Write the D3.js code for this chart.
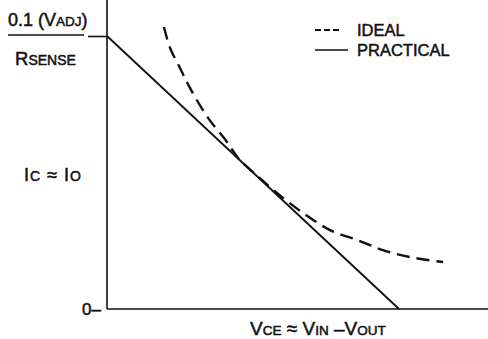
<!DOCTYPE html>
<html><head><meta charset="utf-8">
<script src="https://cdn.jsdelivr.net/npm/d3@7"></script>
<style>body{margin:0;background:#fff}svg{display:block}text{font-family:"Liberation Sans",Arial,sans-serif;fill:#111;stroke:#111;stroke-width:0.5px}</style>
</head><body><svg id="c" width="488" height="339"></svg>
<script>
// Practical (linear) characteristic: Ic from max to 0 as Vce rises
const practicalV = [0, 10];
const practicalI = [1, 0];
// Ideal (constant power hyperbola)
const idealV = [1.95, 2.16, 2.50, 2.84, 3.46, 4.11, 4.49, 5.07, 5.82, 6.71, 7.64, 8.56, 9.45, 10.38, 11.51];
const idealI = [1.033, 0.956, 0.883, 0.810, 0.700, 0.612, 0.553, 0.495, 0.425, 0.352, 0.289, 0.253, 0.216, 0.190, 0.172];
const yTickValues = [0, 1];
const legendLabels = ["IDEAL", "PRACTICAL"];

const svg = d3.select("#c");
const x = d3.scaleLinear().domain([0, 10]).range([107, 399]);
const y = d3.scaleLinear().domain([0, 1]).range([309, 36]);

// axes
svg.append("line").attr("x1", x(0)).attr("x2", 488).attr("y1", y(0)).attr("y2", y(0))
  .attr("stroke", "#111").attr("stroke-width", 1.6);
svg.append("line").attr("x1", x(0)).attr("x2", x(0)).attr("y1", 0).attr("y2", y(0))
  .attr("stroke", "#111").attr("stroke-width", 1.6);
const yAxis = d3.axisLeft(y).tickValues([yTickValues[1]]).tickSize(19).tickFormat("");
const ga = svg.append("g").attr("transform", `translate(${x(0)},0)`).call(yAxis);
ga.select(".domain").remove();
ga.selectAll("line").attr("stroke", "#111").attr("stroke-width", 1.6);

// fraction bar
svg.append("line").attr("x1", 8).attr("x2", 84).attr("y1", 35).attr("y2", 35)
  .attr("stroke", "#111").attr("stroke-width", 1.3);

// lines
const practical = practicalV.map((v, i) => [v, practicalI[i]]);
const ideal = idealV.map((v, i) => [v, idealI[i]]);
const line = d3.line().x(d => x(d[0])).y(d => y(d[1]));
svg.append("path").attr("d", line(practical)).attr("fill", "none")
  .attr("stroke", "#111").attr("stroke-width", 1.8);
svg.append("path").attr("d", line.curve(d3.curveCatmullRom)(ideal)).attr("fill", "none")
  .attr("stroke", "#111").attr("stroke-width", 2.4).attr("stroke-dasharray", "13,7");

// legend
svg.append("line").attr("x1", 315).attr("x2", 339).attr("y1", 30).attr("y2", 30)
  .attr("stroke", "#111").attr("stroke-width", 1.8).attr("stroke-dasharray", "6,3");
svg.append("line").attr("x1", 315).attr("x2", 348).attr("y1", 50).attr("y2", 50)
  .attr("stroke", "#111").attr("stroke-width", 1.6);
svg.append("text").attr("x", 357).attr("y", 36).attr("font-size", 16.5).text(legendLabels[0]);
svg.append("text").attr("x", 357).attr("y", 56).attr("font-size", 16.5).text(legendLabels[1]);

// text helper with small-caps subscripts
function rich(xp, yp, parts, big, small, ls) {
  const t = svg.append("text").attr("x", xp).attr("y", yp).attr("letter-spacing", ls || 0);
  parts.forEach(p => t.append("tspan").attr("font-size", p[1] ? small : big).text(p[0]));
  return t;
}
rich(8, 26, [["0.1 (V", 0], ["ADJ", 1], [")", 0]], 18, 13.5);
rich(15, 65, [["R", 0], ["SENSE", 1]], 18.5, 14);
rich(24, 181, [["I", 0], ["C", 1], [" ≈ I", 0], ["O", 1]], 18, 14, 1);
svg.append("text").attr("x", 82).attr("y", 315).attr("font-size", 17).text(yTickValues[0] + "–");
rich(250, 335, [["V", 0], ["CE", 1], [" ≈ V", 0], ["IN", 1], [" –V", 0], ["OUT", 1]], 19, 13.5);
</script></body></html>
